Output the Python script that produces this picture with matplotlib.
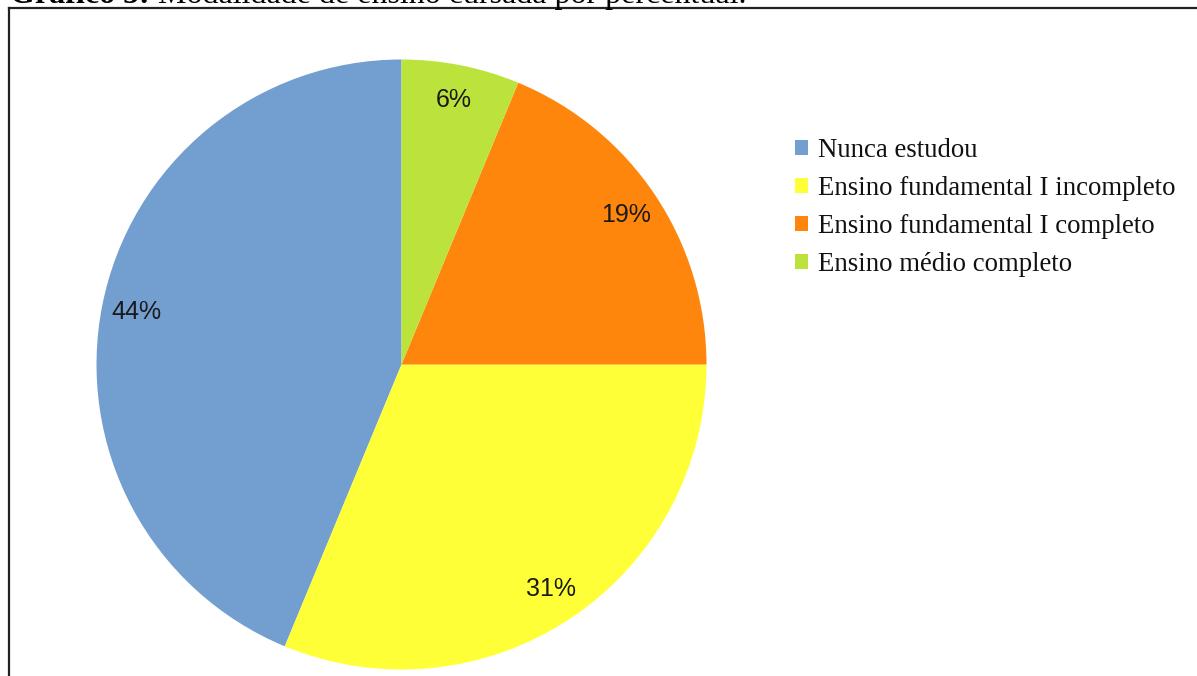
import matplotlib
matplotlib.use("Agg")
import matplotlib.pyplot as plt
from matplotlib.lines import Line2D

# Data: respondents per schooling level
categories = ["Nunca estudou", "Ensino fundamental I incompleto",
              "Ensino fundamental I completo", "Ensino médio completo"]
counts = [7, 5, 3, 1]
colors = ["#729fcf", "#ffff38", "#ff860d", "#bbe33c"]
title_bold = "Gráfico 5:"
title_rest = " Modalidade de ensino cursada por percentual."

W, H = 1197, 676
fig = plt.figure(figsize=(W / 100, H / 100), dpi=100)
ax = fig.add_axes([0, 0, 1, 1])

wedges, texts, autotexts = ax.pie(
    counts, colors=colors, startangle=90, counterclock=True,
    center=(401.5, H - 364.5), radius=305, frame=True,
    autopct=lambda p: f"{p:.0f}%", pctdistance=0.885,
    textprops=dict(family="Liberation Sans", fontsize=18, color="#1a1a1a"),
    wedgeprops=dict(linewidth=0),
)
ax.set_xlim(0, W)
ax.set_ylim(0, H)
ax.set_aspect("equal")
ax.axis("off")

leg = fig.legend(
    wedges, categories, loc="upper left",
    bbox_to_anchor=(795 / W, 1 - 138 / H), frameon=False,
    prop=dict(family="Liberation Serif", size=19.3),
    handlelength=0.5, handleheight=0.5, handletextpad=0.35,
    labelspacing=0.485, borderaxespad=0, borderpad=0,
)
for t in leg.get_texts():
    t.set_color("#111111")

# Frame around the chart
fig.add_artist(Line2D([9 / W, 9 / W], [0, 1 - 8 / H], transform=fig.transFigure,
                      color="#222222", linewidth=1.6))
fig.add_artist(Line2D([9 / W, 1], [1 - 8 / H, 1 - 8 / H], transform=fig.transFigure,
                      color="#222222", linewidth=1.6))

# Caption above the frame
cap = fig.text(10 / W, 1 - 3 / H, title_bold, family="Liberation Serif",
               fontsize=23, fontweight="bold", va="baseline", ha="left")
fig.canvas.draw()
bb = cap.get_window_extent()
fig.text(bb.x1 / W, 1 - 3 / H, title_rest, family="Liberation Serif",
         fontsize=23, va="baseline", ha="left")

fig.savefig("out.png", dpi=100)
